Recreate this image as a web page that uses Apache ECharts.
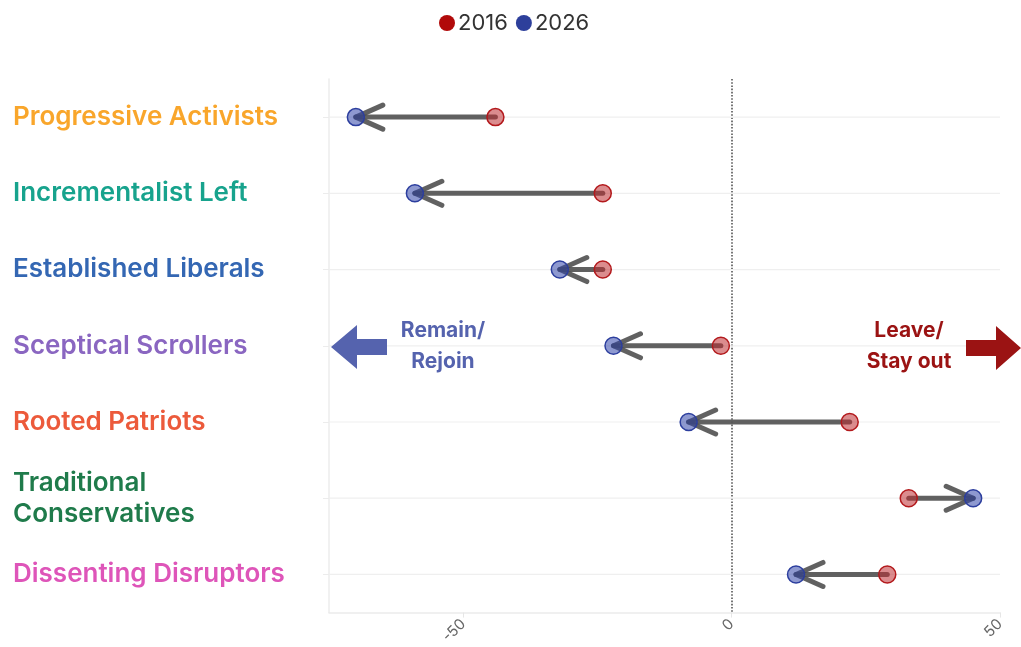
<!DOCTYPE html>
<html>
<head>
<meta charset="utf-8">
<script src="https://cdn.jsdelivr.net/npm/echarts@6/dist/echarts.min.js"></script>
<style>
  html, body { margin: 0; padding: 0; background: #fff; }
  #chart { width: 1021px; height: 647px; }
</style>
</head>
<body>
<div id="chart"></div>
<script>
// segments, top to bottom
var groups = ['Progressive Activists', 'Incrementalist Left', 'Established Liberals', 'Sceptical Scrollers', 'Rooted Patriots', 'Traditional\nConservatives', 'Dissenting Disruptors'];
var groupColors = ['#f9a62b', '#17a38d', '#3467b3', '#8a66c1', '#ec5a3b', '#1f7b4b', '#de55b9'];
// net leave minus remain
var v2016 = [-44, -24, -24, -2, 22, 33, 29];
var v2026 = [-70, -59, -32, -22, -8, 45, 12];
var xTicks = [-50, 0, 50];

var font = 'Inter';
var rich = {};
groupColors.forEach(function (c, i) {
    rich['c' + i] = { color: c, fontSize: 26, fontWeight: 600, fontFamily: font, lineHeight: 31 };
});

var rows = groups.map(function (g, i) { return [v2016[i], i, v2026[i]]; });

var myChart = echarts.init(document.getElementById('chart'));
var option = {
    animation: false,
    legend: {
        top: 7,
        left: 434,
        icon: 'circle',
        itemWidth: 16,
        itemHeight: 16,
        itemGap: 8,
        textStyle: { fontSize: 22, color: '#333', fontFamily: font, padding: [0, 0, 0, -2] },
        data: [
            { name: '2016', itemStyle: { color: '#b10a0a', borderWidth: 0 } },
            { name: '2026', itemStyle: { color: '#2d3f9b', borderWidth: 0 } }
        ]
    },
    grid: { left: 329, right: 21, top: 79, bottom: 31, containLabel: false },
    xAxis: {
        type: 'value',
        min: -75,
        max: 50,
        splitLine: { show: false },
        axisLine: { show: true, lineStyle: { color: '#ececec', width: 1.5 } },
        axisTick: { show: true, customValues: xTicks, length: 5, lineStyle: { color: '#e6e6e6' } },
        axisLabel: { customValues: xTicks, rotate: 45, color: '#666', fontSize: 15, fontFamily: font, margin: 9 }
    },
    yAxis: {
        type: 'category',
        inverse: true,
        data: groups,
        axisLine: { show: true, onZero: false, lineStyle: { color: '#ececec', width: 1.5 } },
        axisTick: { show: true, alignWithLabel: true, length: 6, lineStyle: { color: '#ececec' } },
        axisLabel: {
            align: 'left',
            margin: 316,
            rich: rich,
            formatter: function (v, i) {
                return v.split('\n').map(function (s) { return '{c' + i + '|' + s + '}'; }).join('\n');
            }
        }
    },
    graphic: [
        {
            type: 'polygon', z: 10,
            shape: { points: [[331, 347], [357, 325], [357, 339], [387, 339], [387, 355], [357, 355], [357, 369]] },
            style: { fill: '#5563ae' }
        },
        {
            type: 'text', z: 10, x: 443, y: 346,
            style: { text: 'Remain/\nRejoin', fill: '#5563ae', font: '700 21px Inter', textAlign: 'center', textVerticalAlign: 'middle', lineHeight: 31 }
        },
        {
            type: 'polygon', z: 10,
            shape: { points: [[1021, 348], [996, 326], [996, 340], [966, 340], [966, 356], [996, 356], [996, 370]] },
            style: { fill: '#9b1313' }
        },
        {
            type: 'text', z: 10, x: 909, y: 346,
            style: { text: 'Leave/\nStay out', fill: '#9b1313', font: '700 21px Inter', textAlign: 'center', textVerticalAlign: 'middle', lineHeight: 31 }
        }
    ],
    series: [
        {
            type: 'custom',
            name: 'change',
            z: 2,
            silent: true,
            data: rows,
            encode: { x: 0, y: 1 },
            renderItem: function (params, api) {
                var i = api.value(1);
                var p16 = api.coord([api.value(0), i]);
                var p26 = api.coord([api.value(2), i]);
                var gl = api.coord([-75, i]);
                var gr = api.coord([50, i]);
                var d = p26[0] > p16[0] ? 1 : -1;
                var arrowStyle = { stroke: 'rgba(75,75,75,0.88)', lineWidth: 5, lineCap: 'round', lineJoin: 'round', fill: null };
                return {
                    type: 'group',
                    children: [
                        { type: 'line', shape: { x1: gl[0], y1: gl[1], x2: gr[0], y2: gr[1] }, style: { stroke: '#efefef', lineWidth: 1.2 } },
                        { type: 'line', shape: { x1: p16[0], y1: p16[1], x2: p26[0], y2: p26[1] }, style: arrowStyle },
                        {
                            type: 'polyline',
                            shape: { points: [[p26[0] - d * 27, p26[1] - 12], [p26[0], p26[1]], [p26[0] - d * 27, p26[1] + 12]] },
                            style: arrowStyle
                        }
                    ]
                };
            }
        },
        {
            name: '2016',
            type: 'scatter',
            z: 5,
            symbolSize: 17,
            itemStyle: { color: 'rgba(190,45,50,0.55)', borderColor: '#b3191c', borderWidth: 1.5, opacity: 1 },
            data: groups.map(function (g, i) { return [v2016[i], i]; }),
            markLine: {
                silent: true,
                symbol: 'none',
                z: 1,
                label: { show: false },
                lineStyle: { type: 'dotted', color: '#555', width: 1.6 },
                data: [{ xAxis: 0 }]
            }
        },
        {
            name: '2026',
            type: 'scatter',
            z: 5,
            symbolSize: 17,
            itemStyle: { color: 'rgba(50,70,170,0.55)', borderColor: '#2c3e9e', borderWidth: 1.5, opacity: 1 },
            data: groups.map(function (g, i) { return [v2026[i], i]; })
        }
    ]
};
myChart.setOption(option);
</script>
</body>
</html>
